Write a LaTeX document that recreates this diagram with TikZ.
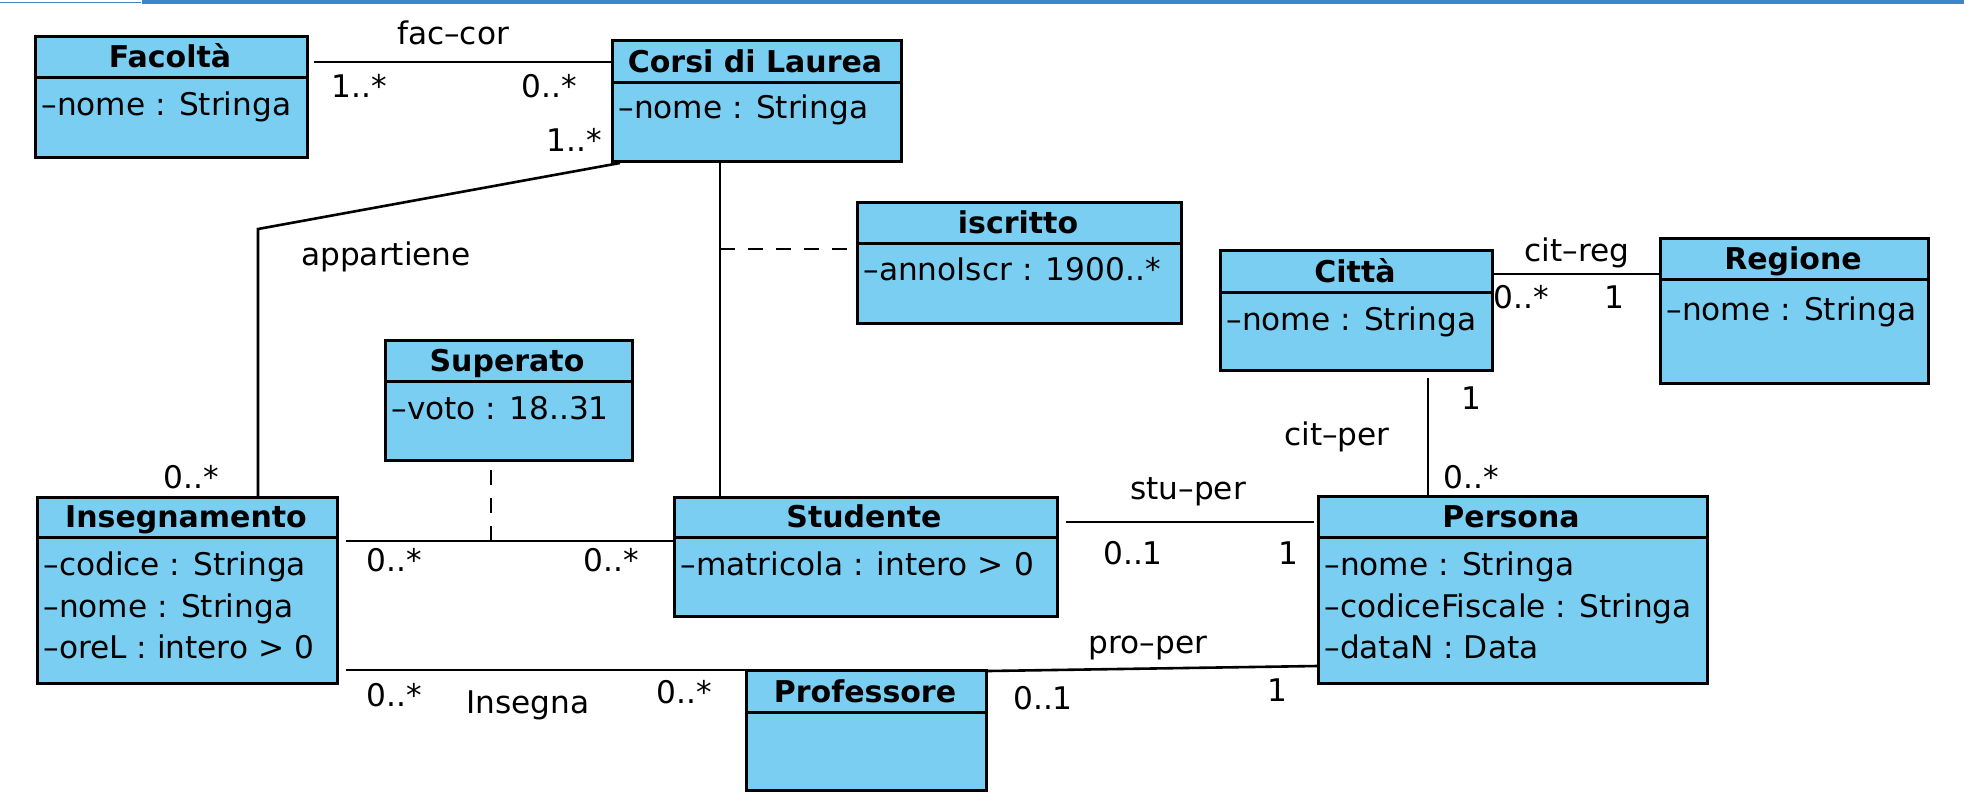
\documentclass[tikz,border=0pt]{standalone}
\usepackage{fontspec}
\setmainfont{DejaVu Sans}
\usepackage{tikz}
\usetikzlibrary{positioning}

\definecolor{umlblue}{RGB}{122,206,242}
\definecolor{barblue}{RGB}{58,135,201}

\tikzset{
  classbox/.style={draw, fill=umlblue, line width=1.5pt, rectangle, anchor=north west, inner sep=0pt},
  ctitle/.style={font=\bfseries\fontsize{15}{18}\selectfont, anchor=base, inner sep=0pt},
  cattr/.style={font=\fontsize{15.6}{18}\selectfont, anchor=base west, inner sep=0pt},
  lbl/.style={font=\fontsize{15.6}{18}\selectfont, inner sep=0pt},
  assoc/.style={line width=1.3pt},
  assocdash/.style={line width=1.3pt, dash pattern=on 7.5pt off 6.5pt},
}

\begin{document}
\begin{tikzpicture}[x=0.5pt,y=-0.5pt]
    \useasboundingbox (0,0) rectangle (1964,804);
    \fill[barblue] (0,1.5) rectangle (141,3);
    \fill[barblue] (142,0) rectangle (1964,3.5);
    % classes
    \foreach \nm/\xa/\ya/\xb/\yb/\yd in {fac/34/35/306/156/77, cdl/611/39/900/160/82,
        isc/856/201/1180/322/243, sup/384/339/631/459/381, ins/36/496/336/682/537,
        stu/673/496/1056/615/537, per/1317/495/1706/682/537, pro/745/669/985/789/712,
        cit/1219/249/1491/369/292, reg/1659/237/1927/382/279} {
      \node[classbox, minimum width={(\xb-\xa)*0.5pt}, minimum height={(\yb-\ya)*0.5pt}] (\nm) at (\xa,\ya) {};
      \draw[line width=1.5pt] (\nm.west |- 0,\yd) -- (\nm.east |- 0,\yd);
    }
    \node[ctitle] (facT) at (170,67) {Facoltà};
    \node[ctitle] (cdlT) at (755,72) {Corsi di Laurea};
    \node[ctitle] (iscT) at (1018,233) {iscritto};
    \node[ctitle] (supT) at (507,371) {Superato};
    \node[ctitle] (insT) at (186,527) {Insegnamento};
    \node[ctitle] (stuT) at (864,527) {Studente};
    \node[ctitle] (perT) at (1511,527) {Persona};
    \node[ctitle] (proT) at (865,702) {Professore};
    \node[ctitle] (citT) at (1355,282) {Città};
    \node[ctitle] (regT) at (1793,269) {Regione};
    % attributes
    \node[cattr] (facA) at (41,115) {–nome : Stringa};
    \node[cattr] (cdlA) at (618,118) {–nome : Stringa};
    \node[cattr] (iscA) at (863,280) {–annoIscr : 1900..*};
    \node[cattr] (supA) at (391,419) {–voto : 18..31};
    \node[cattr] (insA) at (43,575) {–codice : Stringa};
    \node[cattr] (insB) at (43,617) {–nome : Stringa};
    \node[cattr] (insC) at (43,658) {–oreL : intero > 0};
    \node[cattr] (stuA) at (680,575) {–matricola : intero > 0};
    \node[cattr] (perA) at (1324,575) {–nome : Stringa};
    \node[cattr] (perB) at (1324,617) {–codiceFiscale : Stringa};
    \node[cattr] (perC) at (1324,658) {–dataN : Data};
    \node[cattr] (citA) at (1226,330) {–nome : Stringa};
    \node[cattr] (regA) at (1666,320) {–nome : Stringa};
    % associations
    \coordinate (appB) at (258,229);
    \coordinate (iscJ) at (720,249);
    \coordinate (supJ) at (491,541);
    \draw[assoc, shorten <=2.5pt] (fac.east |- 0,62) -- (cdl.west |- 0,62);
    \draw[assoc] ([xshift=4.5pt]cdl.south west) -- (appB) -- (appB |- ins.north);
    \draw[assoc] (cdl.south -| iscJ) -- (stu.north -| iscJ);
    \draw[assocdash] (iscJ) -- (isc.west |- iscJ);
    \draw[assoc, shorten <=3.5pt] (ins.east |- supJ) -- (stu.west |- supJ);
    \draw[assocdash, shorten <=4pt] (sup.south -| supJ) -- (supJ);
    \draw[assoc, shorten <=3.5pt, shorten >=1.5pt] (stu.east |- 0,522) -- (per.west |- 0,522);
    \draw[assoc, shorten <=3.5pt] (ins.east |- 0,670) -- (pro.west |- 0,670);
    \draw[assoc] (pro.east |- 0,671) -- (per.west |- 0,666);
    \draw[assoc] (cit.east |- 0,274) -- (reg.west |- 0,274);
    \draw[assoc, shorten <=3pt] (cit.south -| 1428,0) -- (per.north -| 1428,0);
    % labels
    \node[lbl] (facCor) at (453,33) {fac–cor};
    \node[lbl] (m1) at (359,86) {1..*};
    \node[lbl] (m2) at (549,86) {0..*};
    \node[lbl] (m3) at (574,140) {1..*};
    \node[lbl] (appart) at (386,257) {appartiene};
    \node[lbl] (m4) at (191,477) {0..*};
    \node[lbl] (m5) at (394,560) {0..*};
    \node[lbl] (m6) at (611,560) {0..*};
    \node[lbl] (stuPer) at (1188,492) {stu–per};
    \node[lbl] (m7) at (1133,553) {0..1};
    \node[lbl] (m8) at (1288,553) {1};
    \node[lbl] (m9) at (394,695) {0..*};
    \node[lbl] (insegna) at (528,705) {Insegna};
    \node[lbl] (m10) at (684,692) {0..*};
    \node[lbl] (proPer) at (1148,648) {pro–per};
    \node[lbl] (m11) at (1043,698) {0..1};
    \node[lbl] (m12) at (1277,690) {1};
    \node[lbl] (citReg) at (1577,253) {cit–reg};
    \node[lbl] (m13) at (1521,297) {0..*};
    \node[lbl] (m14) at (1614,297) {1};
    \node[lbl] (m15) at (1471,398) {1};
    \node[lbl] (citPer) at (1337,437) {cit–per};
    \node[lbl] (m16) at (1471,477) {0..*};
  \end{tikzpicture}
\end{document}
